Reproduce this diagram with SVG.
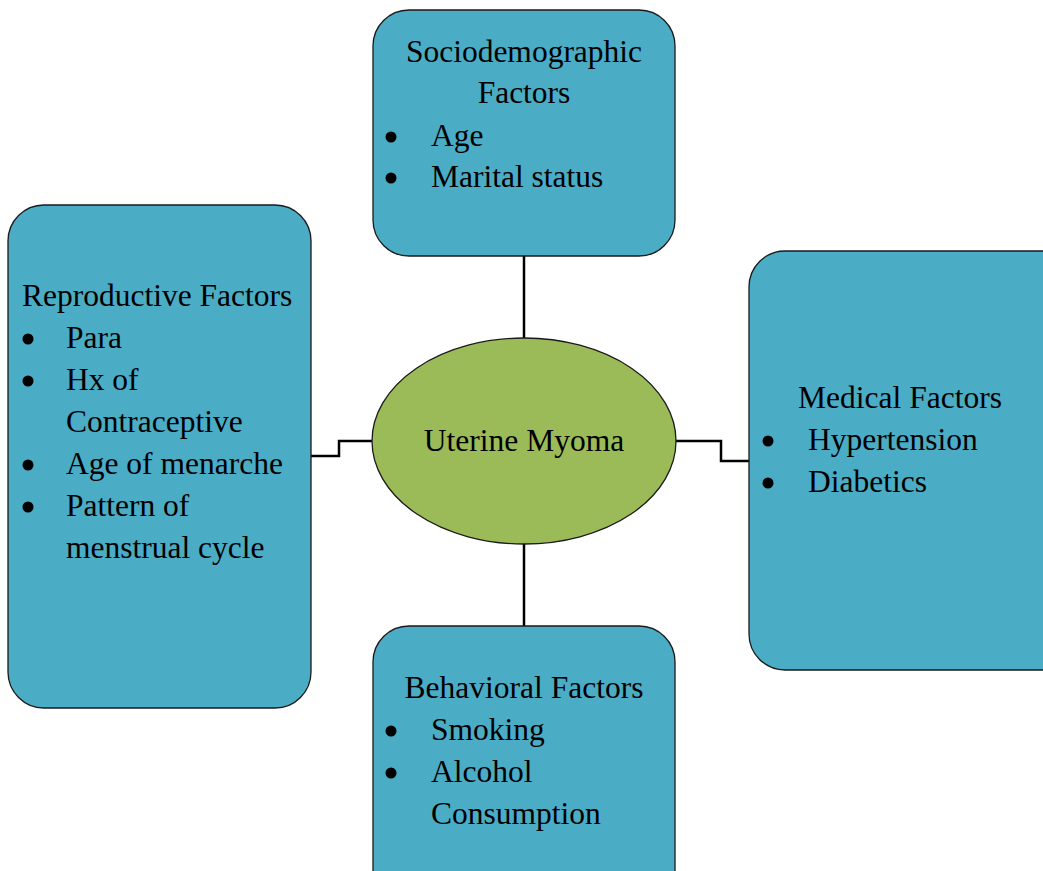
<svg xmlns="http://www.w3.org/2000/svg" width="1043" height="871" viewBox="0 0 1043 871">
<style>
.box{fill:#4BACC6;stroke:#1a1a1a;stroke-width:1.3}
.ell{fill:#9BBB59;stroke:#1a1a1a;stroke-width:1.3}
.t{font-family:"Liberation Serif","Times New Roman",serif;font-size:31.5px;fill:#000}
.c{text-anchor:middle}
.con{fill:none;stroke:#000;stroke-width:2.5}
.b{fill:#000}
</style>
<rect width="1043" height="871" fill="#fff"/>
<g id="connectors">
<path class="con" d="M524,256 V338"/>
<path class="con" d="M524,544 V626"/>
<path class="con" d="M372,441 H339 V456 H311"/>
<path class="con" d="M676,441 H721 V461 H749"/>
</g>
<g id="socio">
<rect class="box" x="373" y="10" width="302" height="246" rx="36"/>
<text class="t c" x="524" y="62">Sociodemographic</text>
<text class="t c" x="524" y="103">Factors</text>
<circle class="b" cx="391" cy="137" r="5.5"/>
<text class="t" x="431" y="146">Age</text>
<circle class="b" cx="391" cy="178" r="5.5"/>
<text class="t" x="431" y="187">Marital status</text>
</g>
<g id="repro">
<rect class="box" x="8" y="205" width="303" height="503" rx="36"/>
<text class="t" x="22" y="306">Reproductive Factors</text>
<circle class="b" cx="28" cy="339" r="5.5"/>
<text class="t" x="66" y="348">Para</text>
<circle class="b" cx="28" cy="381" r="5.5"/>
<text class="t" x="66" y="390">Hx of</text>
<text class="t" x="66" y="432">Contraceptive</text>
<circle class="b" cx="28" cy="465" r="5.5"/>
<text class="t" x="66" y="474">Age of menarche</text>
<circle class="b" cx="28" cy="507" r="5.5"/>
<text class="t" x="66" y="516">Pattern of</text>
<text class="t" x="66" y="558">menstrual cycle</text>
</g>
<g id="medical">
<rect class="box" x="749" y="251" width="330" height="419" rx="36"/>
<text class="t c" x="900" y="408">Medical Factors</text>
<circle class="b" cx="768" cy="441" r="5.5"/>
<text class="t" x="808" y="450">Hypertension</text>
<circle class="b" cx="768" cy="483" r="5.5"/>
<text class="t" x="808" y="492">Diabetics</text>
</g>
<g id="behav">
<rect class="box" x="373" y="626" width="302" height="280" rx="36"/>
<text class="t c" x="524" y="698">Behavioral Factors</text>
<circle class="b" cx="391" cy="731" r="5.5"/>
<text class="t" x="431" y="740">Smoking</text>
<circle class="b" cx="391" cy="773" r="5.5"/>
<text class="t" x="431" y="782">Alcohol</text>
<text class="t" x="431" y="824">Consumption</text>
</g>
<g id="center">
<ellipse class="ell" cx="524" cy="441" rx="152" ry="103"/>
<text class="t c" x="524" y="451">Uterine Myoma</text>
</g>
</svg>
